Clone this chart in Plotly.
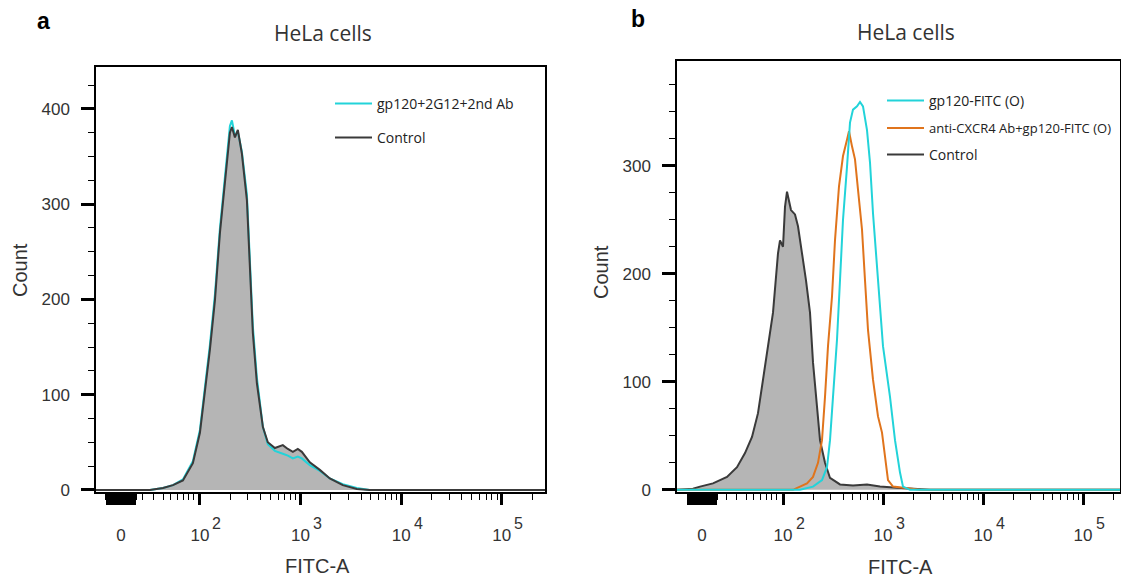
import math
import plotly.graph_objects as go

W, H = 1121, 578

# ---------------- data (x in display decades of FITC-A, y = Count) ----------------
# Panel a
a_pos_control = [0.967, 1.503, 1.633, 1.732, 1.831, 1.930, 2.000, 2.050, 2.099, 2.149, 2.199, 2.248,
                 2.298, 2.318, 2.348, 2.377, 2.417, 2.467, 2.497, 2.526, 2.566, 2.626, 2.675,
                 2.745, 2.824, 2.874, 2.924, 2.973, 3.013, 3.092, 3.192, 3.291, 3.420, 3.559,
                 3.688, 5.430]
a_control = [0, 0, 2, 5, 10, 28, 60, 102, 147, 199, 270, 322,
             375, 381, 370, 378, 353, 304, 234, 165, 112, 66, 50,
             44, 47, 43, 40, 43, 40, 29, 21, 12, 5, 1,
             0, 0]
a_pos_gp120 = a_pos_control
a_gp120_2g12 = [0, 0, 2, 5, 11, 30, 63, 106, 152, 205, 275, 328,
                382, 388, 372, 376, 355, 310, 242, 172, 118, 66, 48,
                41, 38, 36, 33, 35, 33, 26, 20, 12, 6, 2,
                0, 0]

# Panel b
b_pos_control = [0.94, 1.10, 1.17, 1.30, 1.44, 1.54, 1.62, 1.69, 1.75, 1.80, 1.85, 1.90, 1.95,
                 1.97, 2.00, 2.02, 2.04, 2.08, 2.12, 2.15, 2.19, 2.23, 2.27, 2.30, 2.34,
                 2.37, 2.42, 2.47, 2.57, 2.70, 2.84, 2.90, 2.97, 3.14, 3.30, 3.47, 5.38]
b_control = [0, 1, 3, 6, 12, 21, 34, 49, 71, 102, 133, 164, 219,
             231, 225, 262, 276, 259, 255, 244, 219, 194, 164, 118, 77,
             46, 25, 11, 5, 4, 5, 4, 3, 2, 1, 0, 0]

b_pos_cxcr4 = [0.94, 2.10, 2.24, 2.30, 2.35, 2.39, 2.42, 2.45, 2.49, 2.52, 2.56, 2.60, 2.64,
               2.66, 2.69, 2.72, 2.75, 2.79, 2.82, 2.85, 2.90, 2.95, 2.99, 3.02, 3.05,
               3.10, 3.30, 3.37, 5.38]
b_cxcr4 = [0, 0, 6, 12, 25, 46, 86, 133, 179, 231, 281, 309, 324,
           332, 318, 306, 278, 241, 194, 148, 102, 68, 53, 31, 9,
           3, 1, 0, 0]

b_pos_gp120 = [0.94, 2.17, 2.30, 2.39, 2.44, 2.47, 2.50, 2.54, 2.57, 2.60, 2.64, 2.67, 2.70,
               2.74, 2.77, 2.80, 2.84, 2.87, 2.90, 2.95, 3.00, 3.07, 3.12, 3.17, 3.20,
               3.27, 5.38]
b_gp120 = [0, 0, 3, 9, 21, 46, 86, 139, 194, 250, 299, 340, 352,
           355, 359, 355, 333, 303, 256, 194, 133, 86, 46, 16, 3,
           0, 0]

# axis labels
decades = [2, 3, 4, 5]
tick_text = ["0"] + ["10" for d in decades]
exponent_text = [str(d) for d in decades]
y_ticks = [0, 100, 200, 300, 400]

CYAN = "#22d3d9"
ORANGE = "#e0741c"
CTRL_LINE = "#3a3a3a"
CTRL_FILL = "#b5b5b5"
TXT = "#333"

fig = go.Figure()

# ---- panel a traces
fig.add_trace(go.Scatter(x=a_pos_control, y=a_control, xaxis="x", yaxis="y", mode="lines",
                         line=dict(width=0, color=CTRL_FILL), fill="tozeroy", fillcolor=CTRL_FILL,
                         showlegend=False, hoverinfo="skip"))
fig.add_trace(go.Scatter(x=a_pos_gp120, y=a_gp120_2g12, xaxis="x", yaxis="y", mode="lines",
                         line=dict(width=2, color=CYAN), name="gp120+2G12+2nd Ab", legend="legend"))
fig.add_trace(go.Scatter(x=a_pos_control, y=a_control, xaxis="x", yaxis="y", mode="lines",
                         line=dict(width=2, color=CTRL_LINE), name="Control", legend="legend2"))

# ---- panel b traces
fig.add_trace(go.Scatter(x=b_pos_control, y=b_control, xaxis="x2", yaxis="y2", mode="lines",
                         line=dict(width=0, color=CTRL_FILL), fill="tozeroy", fillcolor=CTRL_FILL,
                         showlegend=False, hoverinfo="skip"))
fig.add_trace(go.Scatter(x=b_pos_control, y=b_control, xaxis="x2", yaxis="y2", mode="lines",
                         line=dict(width=2, color=CTRL_LINE), name="Control", legend="legend5"))
fig.add_trace(go.Scatter(x=b_pos_cxcr4, y=b_cxcr4, xaxis="x2", yaxis="y2", mode="lines",
                         line=dict(width=2, color=ORANGE), name="anti-CXCR4 Ab+gp120-FITC (O)",
                         legend="legend4"))
fig.add_trace(go.Scatter(x=b_pos_gp120, y=b_gp120, xaxis="x2", yaxis="y2", mode="lines",
                         line=dict(width=2, color=CYAN), name="gp120-FITC (O)", legend="legend3"))


def px_x(p):
    return p / W


def px_y(p):
    return 1 - p / H


def log_minors(rng):
    vals = [1.434, 1.534, 1.633, 1.705, 1.774, 1.834, 1.884, 1.934]
    for d in decades:
        for k in range(2, 10):
            v = d + math.log10(k)
            if v < rng[1]:
                vals.append(round(v, 4))
    return vals


def xaxis_cfg(x0, x1, rng, zero_pos, anchor):
    dense = [round(zero_pos - 0.15 + i * 0.01, 4) for i in range(31)]
    block = [round(zero_pos - 0.135 + i * 0.03, 3) for i in range(10)]
    block = [b for b in block if abs(b - zero_pos) > 0.01]
    return dict(
        domain=[px_x(x0), px_x(x1)], range=rng, anchor=anchor,
        showline=True, linecolor="black", linewidth=1.5, mirror=True,
        ticks="outside", ticklen=11, tickwidth=3, tickcolor="black",
        tickmode="array", tickvals=block + [zero_pos] + decades,
        ticktext=[""] * len(block) + tick_text,
        tickfont=dict(family="Liberation Sans, Arial", size=17, color=TXT),
        ticklabelstandoff=16,
        minor=dict(tickmode="array", tickvals=dense + log_minors(rng), ticklen=6, tickwidth=1.2,
                   tickcolor="black", showgrid=False),
        showgrid=False, zeroline=False, fixedrange=True, automargin=False,
    )


def yaxis_cfg(y0, y1, rng, minors, anchor):
    return dict(
        domain=[px_y(y1), px_y(y0)], range=rng, anchor=anchor,
        showline=True, linecolor="black", linewidth=1.5, mirror=True,
        ticks="outside", ticklen=13, tickwidth=3, tickcolor="black",
        tickmode="array", tickvals=[v for v in y_ticks if v < rng[1]],
        ticktext=[str(v) for v in y_ticks if v < rng[1]],
        tickfont=dict(family="Liberation Sans, Arial", size=17, color=TXT),
        ticklabelstandoff=8,
        minor=dict(tickmode="array", tickvals=minors, ticklen=6, tickwidth=1.2,
                   tickcolor="black", showgrid=False),
        showgrid=False, zeroline=False, fixedrange=True, automargin=False,
    )


rng_a = [0.967, 5.43]
rng_b = [0.94, 5.37]
xa = xaxis_cfg(96, 545, rng_a, 1.215, "y")
xb = xaxis_cfg(677, 1120, rng_b, 1.19, "y2")
ya = yaxis_cfg(67, 492, [-2.2, 444], [25, 50, 75, 125, 150, 175, 225, 250, 275, 325, 350, 375, 425], "x")
yb = yaxis_cfg(61, 492, [-2, 397], [25, 50, 75, 125, 150, 175, 225, 250, 275, 325, 350, 375], "x2")


def leg(xp, yp, size=14):
    return dict(x=px_x(xp), y=px_y(yp), xanchor="left", yanchor="middle",
                bgcolor="rgba(0,0,0,0)", borderwidth=0, itemwidth=37,
                font=dict(family="Open Sans", size=size, color="#222"),
                itemclick=False, itemdoubleclick=False)


ann_font_title = dict(family="Open Sans", size=21, color=TXT)
ann_font_axis = dict(family="Liberation Sans, Arial", size=20, color=TXT)
ann_font_panel = dict(family="Liberation Sans, Arial", size=23, color="black")
ann_font_exp = dict(family="Liberation Sans, Arial", size=16, color=TXT)

annotations = [
    dict(text="<b>a</b>", x=px_x(43), y=px_y(21), font=ann_font_panel),
    dict(text="<b>b</b>", x=px_x(638), y=px_y(19), font=ann_font_panel),
    dict(text="HeLa cells", x=px_x(323), y=px_y(33), font=ann_font_title),
    dict(text="HeLa cells", x=px_x(906), y=px_y(32), font=ann_font_title),
    dict(text="Count", x=px_x(20), y=px_y(270), textangle=-90, font=ann_font_axis),
    dict(text="Count", x=px_x(601), y=px_y(272), textangle=-90, font=ann_font_axis),
    dict(text="FITC-A", x=px_x(317), y=px_y(566), font=ann_font_axis),
    dict(text="FITC-A", x=px_x(900), y=px_y(567), font=ann_font_axis),
]
for a in annotations:
    a.update(xref="paper", yref="paper")

# exponents of the 10^n tick labels, positioned through each x axis
for xref in ("x", "x2"):
    for d, e in zip(decades, exponent_text):
        annotations.append(dict(text=e, x=d, xref=xref, y=px_y(523), yref="paper",
                                xshift=17, font=ann_font_exp))

for a in annotations:
    a.update(showarrow=False, xanchor="center", yanchor="middle")

fig.update_layout(
    width=W, height=H, margin=dict(l=0, r=0, t=0, b=0, autoexpand=False),
    paper_bgcolor="white", plot_bgcolor="white",
    xaxis=xa, yaxis=ya, xaxis2=xb, yaxis2=yb,
    legend=leg(330, 104), legend2=leg(330, 138),
    legend3=leg(882, 101), legend4=leg(882, 128, 13), legend5=leg(882, 155),
    annotations=annotations,
    hovermode=False,
)

fig.write_html("out.html", config=dict(displayModeBar=False),
               post_script="document.body.style.margin='0px';document.body.style.overflow='hidden';")
